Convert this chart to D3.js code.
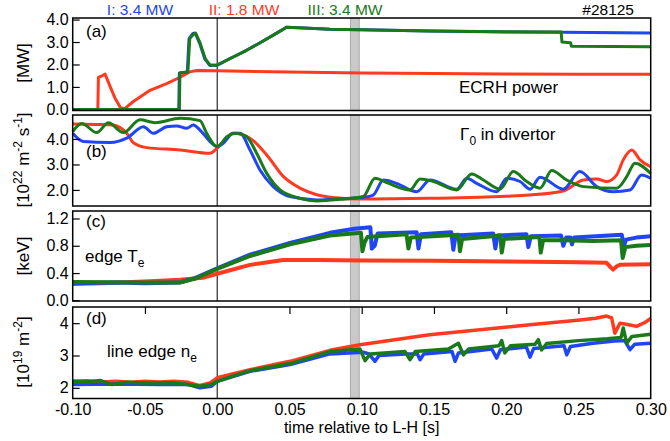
<!DOCTYPE html>
<html>
<head>
<meta charset="utf-8">
<script src="https://cdn.jsdelivr.net/npm/d3@7"></script>
<style>
body { margin: 0; background: #fff; }
text { font-family: "Liberation Sans", Arial, sans-serif; fill: #000; }
</style>
</head>
<body>
<svg id="chart" width="670" height="441"></svg>
<script>
// time axis
var xDomain = [-0.10, 0.30];
var xTicks = [-0.10, -0.05, 0.00, 0.05, 0.10, 0.15, 0.20, 0.25, 0.30];
var bandT = [0.0922, 0.0983];
var shotLabels = ["I: 3.4 MW", "II: 1.8 MW", "III: 3.4 MW"];
var shotNumber = "#28125";

// (a) ECRH power [MW]
var ecrhRed = [[-0.100,0],[-0.0826,0],[-0.0822,1.43],[-0.0790,1.52],[-0.0776,1.57],[-0.0740,1.0],[-0.0707,0.5],[-0.0670,0.08],[-0.0640,0.03],[-0.0580,0.35],[-0.0465,0.85],[-0.035,1.15],[-0.026,1.42],[-0.019,1.67],[-0.014,1.73],[0,1.72],[0.05,1.66],[0.10,1.62],[0.15,1.60],[0.20,1.58],[0.25,1.57],[0.30,1.57]];
var ecrhBlue = [[-0.100,0],[-0.0266,0],[-0.0262,1.62],[-0.0207,1.66],[-0.0195,3.15],[-0.0168,3.38],[-0.0152,3.40],[-0.0122,2.95],[-0.0086,2.25],[-0.0052,1.96],[0,1.97],[0.010,2.30],[0.020,2.62],[0.030,2.98],[0.040,3.35],[0.048,3.66],[0.060,3.63],[0.078,3.57],[0.10,3.55],[0.147,3.49],[0.20,3.45],[0.238,3.43],[0.30,3.40]];
var ecrhGreen = [[-0.100,0],[-0.0262,0],[-0.0258,1.62],[-0.0203,1.66],[-0.0190,3.15],[-0.0163,3.36],[-0.0148,3.38],[-0.0118,2.95],[-0.0082,2.25],[-0.0048,1.96],[0,1.97],[0.010,2.30],[0.020,2.62],[0.030,2.98],[0.040,3.35],[0.048,3.66],[0.060,3.63],[0.078,3.57],[0.10,3.55],[0.147,3.49],[0.20,3.46],[0.2380,3.45],[0.2386,3.00],[0.2445,2.97],[0.2452,2.81],[0.30,2.79]];

// (b) Gamma_0 in divertor [1e22 m^-2 s^-1]
var gamRed = [[-0.100,4.59],[-0.085,4.57],[-0.072,4.55],[-0.0626,4.22],[-0.058,3.85],[-0.0488,3.66],[-0.0257,3.57],[-0.005,3.44],[0,3.64],[0.0111,4.22],[0.0227,4.03],[0.0343,3.37],[0.0457,2.53],[0.0573,2.07],[0.0689,1.81],[0.080,1.70],[0.10,1.64],[0.147,1.67],[0.20,1.75],[0.216,1.80],[0.2396,1.96],[0.2534,2.39],[0.2626,2.43],[0.2696,2.33],[0.2765,2.59],[0.281,3.18],[0.2869,3.57],[0.2926,3.18],[0.30,2.91]];
var gamBlue = [[-0.100,4.22],[-0.0927,3.90],[-0.074,3.86],[-0.0626,4.03],[-0.0511,4.48],[-0.0442,4.22],[-0.035,4.48],[-0.028,4.51],[-0.0211,4.42],[-0.0165,4.55],[-0.0119,4.35],[-0.005,3.90],[0,3.70],[0.0042,3.83],[0.011,4.22],[0.0158,4.22],[0.0227,3.57],[0.0296,2.78],[0.0388,2.13],[0.0504,1.74],[0.0689,1.61],[0.085,1.65],[0.1011,1.71],[0.108,1.80],[0.115,2.39],[0.124,2.26],[0.138,1.93],[0.1473,2.39],[0.1657,2.03],[0.1727,2.46],[0.1796,2.26],[0.1934,1.93],[0.2003,2.46],[0.2096,2.33],[0.2165,2.03],[0.2234,2.50],[0.2395,2.03],[0.251,2.72],[0.2626,2.13],[0.2741,1.93],[0.2857,2.00],[0.2937,2.59],[0.30,2.46]];
var gamGreen = [[-0.100,4.29],[-0.0938,4.61],[-0.0834,4.25],[-0.0753,4.64],[-0.065,4.25],[-0.0534,4.75],[-0.043,4.64],[-0.0257,4.81],[-0.0119,4.72],[-0.0073,4.22],[0,3.70],[0.003,3.83],[0.0066,4.09],[0.0134,4.22],[0.0204,4.09],[0.0273,3.44],[0.0343,2.65],[0.0435,2.00],[0.0573,1.67],[0.0689,1.57],[0.085,1.63],[0.1011,1.74],[0.1092,2.46],[0.1173,2.29],[0.1334,2.00],[0.1404,2.43],[0.1496,2.33],[0.1657,2.00],[0.1761,2.63],[0.1842,2.39],[0.1957,2.03],[0.2049,2.72],[0.2142,2.33],[0.2234,2.07],[0.2315,2.76],[0.2419,2.39],[0.2534,2.13],[0.2765,2.07],[0.2834,2.52],[0.2891,3.05],[0.30,2.65]];

// (c) edge Te [keV]
var teRed = [[-0.100,0.24],[-0.080,0.25],[-0.0465,0.28],[-0.0257,0.30],[-0.010,0.33],[0,0.39],[0.0227,0.52],[0.0457,0.59],[0.070,0.59],[0.10,0.585],[0.15,0.58],[0.20,0.57],[0.25,0.56],[0.2695,0.55],[0.2725,0.48],[0.274,0.45],[0.2765,0.50],[0.2787,0.52],[0.30,0.53]];
var teBlue = [[-0.100,0.25],[-0.070,0.26],[-0.050,0.25],[-0.026,0.26],[-0.015,0.33],[0,0.47],[0.0227,0.67],[0.0504,0.84],[0.078,0.99],[0.095,1.05],[0.106,1.07],[0.107,0.76],[0.109,0.80],[0.111,0.98],[0.138,1.00],[0.1393,0.76],[0.141,0.97],[0.162,1.00],[0.1634,0.74],[0.165,0.95],[0.191,0.98],[0.1925,0.76],[0.194,0.95],[0.214,0.97],[0.2153,0.78],[0.217,0.94],[0.238,0.95],[0.2395,0.80],[0.2415,0.92],[0.2445,0.92],[0.2455,0.82],[0.247,0.92],[0.280,0.96],[0.2815,0.80],[0.283,0.89],[0.29,0.92],[0.30,0.94]];
var teGreen = [[-0.100,0.27],[-0.050,0.26],[-0.026,0.26],[-0.015,0.32],[0,0.46],[0.0227,0.65],[0.0504,0.82],[0.078,0.95],[0.0995,0.99],[0.1005,0.72],[0.102,0.85],[0.104,0.93],[0.131,0.97],[0.1323,0.76],[0.134,0.92],[0.167,0.96],[0.168,0.72],[0.1695,0.90],[0.196,0.95],[0.1969,0.70],[0.1985,0.90],[0.223,0.93],[0.2239,0.70],[0.2255,0.88],[0.24,0.88],[0.26,0.87],[0.2795,0.88],[0.2806,0.62],[0.2825,0.78],[0.29,0.80],[0.30,0.81]];

// (d) line edge ne [1e19 m^-2]
var neRed = [[-0.100,2.20],[-0.090,2.22],[-0.080,2.18],[-0.070,2.20],[-0.060,2.17],[-0.050,2.20],[-0.040,2.18],[-0.030,2.20],[-0.020,2.17],[-0.012,2.07],[-0.005,2.15],[0,2.31],[0.0227,2.56],[0.0504,2.82],[0.078,3.16],[0.0988,3.33],[0.147,3.64],[0.2165,3.95],[0.251,4.10],[0.262,4.15],[0.2695,4.22],[0.273,4.16],[0.2752,3.69],[0.2787,4.00],[0.284,3.96],[0.2902,3.90],[0.296,4.02],[0.30,4.15]];
var neBlue = [[-0.100,2.10],[-0.070,2.12],[-0.040,2.10],[-0.020,2.10],[-0.012,2.00],[-0.004,2.05],[0,2.20],[0.0227,2.51],[0.0504,2.72],[0.078,3.05],[0.1011,3.10],[0.105,3.05],[0.1092,2.82],[0.112,3.00],[0.130,3.05],[0.1385,3.05],[0.1404,2.87],[0.143,3.05],[0.1625,3.12],[0.1646,2.82],[0.167,3.08],[0.190,3.20],[0.1934,2.92],[0.196,3.18],[0.214,3.26],[0.2165,2.95],[0.219,3.22],[0.240,3.30],[0.2419,3.02],[0.2445,3.28],[0.260,3.38],[0.275,3.45],[0.282,3.46],[0.2857,3.18],[0.289,3.35],[0.30,3.38]];
var neGreen = [[-0.100,2.20],[-0.090,2.18],[-0.081,2.23],[-0.0729,2.10],[-0.0626,2.17],[-0.050,2.15],[-0.030,2.16],[-0.012,2.05],[-0.004,2.10],[0,2.20],[0.0227,2.53],[0.0504,2.75],[0.078,3.12],[0.0988,3.20],[0.1023,2.84],[0.106,3.05],[0.130,3.12],[0.1334,2.87],[0.137,3.12],[0.160,3.20],[0.1669,3.38],[0.1704,3.02],[0.174,3.20],[0.195,3.30],[0.1969,3.46],[0.199,3.08],[0.203,3.30],[0.220,3.35],[0.2222,3.49],[0.2245,3.17],[0.228,3.37],[0.250,3.46],[0.270,3.52],[0.2795,3.56],[0.281,3.85],[0.2834,3.38],[0.287,3.59],[0.30,3.66]];

var colors = ["#ff3a1f", "#1f45f5", "#1a7a1a"]; // red, blue, green
var shotColors = ["#1f45f5", "#ff3a1f", "#1a7a1a"];

var svg = d3.select("#chart");
var x = d3.scaleLinear().domain(xDomain).range([72.7, 650.7]);

var panels = [
	{ y0: 18, y1: 110.5, domain: [-0.05, 4.07], ticks: [0, 1, 2, 3, 4], fmt: ".1f", sw: 3, curve: d3.curveLinear, series: [ecrhRed, ecrhBlue, ecrhGreen], tag: "(a)", tagY: 37 },
	{ y0: 115, y1: 206, domain: [1.37, 4.94], ticks: [2, 3, 4], fmt: ".1f", sw: 3, curve: d3.curveMonotoneX, series: [gamRed, gamBlue, gamGreen], tag: "(b)", tagY: 157 },
	{ y0: 211, y1: 301, domain: [-0.01, 1.31], ticks: [0, 0.4, 0.8, 1.2], fmt: ".1f", sw: 4, curve: d3.curveLinear, series: [teRed, teBlue, teGreen], tag: "(c)", tagY: 227 },
	{ y0: 307, y1: 398.5, domain: [1.67, 4.5], ticks: [2, 3, 4], fmt: "d", sw: 3.5, curve: d3.curveLinear, series: [neRed, neBlue, neGreen], tag: "(d)", tagY: 324 }
];

panels.forEach(function(p) {
	var y = d3.scaleLinear().domain(p.domain).range([p.y1, p.y0]);
	var g = svg.append("g");

	g.append("rect")
		.attr("x", x(bandT[0]))
		.attr("y", p.y0)
		.attr("width", x(bandT[1]) - x(bandT[0]))
		.attr("height", p.y1 - p.y0)
		.attr("fill", "#c9c9c9")
		.attr("stroke", "#aaa")
		.attr("stroke-width", 1);

	g.append("line")
		.attr("x1", x(0)).attr("x2", x(0))
		.attr("y1", p.y0).attr("y2", p.y1)
		.attr("stroke", "#000")
		.attr("stroke-width", 1);

	var line = d3.line()
		.x(function(d) { return x(d[0]); })
		.y(function(d) { return y(d[1]); })
		.curve(p.curve);

	p.series.forEach(function(s, i) {
		g.append("path")
			.attr("d", line(s))
			.attr("fill", "none")
			.attr("stroke", colors[i])
			.attr("stroke-width", p.sw)
			.attr("stroke-linejoin", "round");
	});

	g.append("rect")
		.attr("x", x.range()[0])
		.attr("y", p.y0)
		.attr("width", x.range()[1] - x.range()[0])
		.attr("height", p.y1 - p.y0)
		.attr("fill", "none")
		.attr("stroke", "#000")
		.attr("stroke-width", 1.5);

	var ax = g.append("g")
		.attr("transform", "translate(" + x.range()[0] + ",0)")
		.call(d3.axisLeft(y).tickValues(p.ticks).tickFormat(d3.format(p.fmt)).tickSizeInner(-7).tickSizeOuter(0).tickPadding(4));
	ax.select(".domain").remove();
	ax.selectAll("line").attr("stroke", "#000").attr("stroke-width", 1.2);
	ax.selectAll("text").attr("font-size", 16).attr("font-family", null).attr("fill", "#000");

	g.append("text")
		.attr("x", 86)
		.attr("y", p.tagY)
		.attr("font-size", 17)
		.text(p.tag);
});

// x axis of bottom panel
var bottom = panels[3];
var xb = svg.append("g")
	.attr("transform", "translate(0," + bottom.y1 + ")")
	.call(d3.axisBottom(x).tickValues(xTicks).tickFormat(function(d) { return d.toFixed(2); }).tickSize(0).tickPadding(5));
xb.select(".domain").remove();
xb.selectAll("text").attr("font-size", 16).attr("font-family", null).attr("fill", "#000");

var xt = svg.append("g")
	.attr("transform", "translate(0," + bottom.y0 + ")")
	.call(d3.axisTop(x).tickValues(xTicks.filter(function(d) { return d !== 0 && d > xDomain[0] && d < xDomain[1]; })).tickFormat("").tickSizeInner(-7).tickSizeOuter(0));
xt.select(".domain").remove();
xt.selectAll("line").attr("stroke", "#000").attr("stroke-width", 1.2);

svg.append("text")
	.attr("x", (x.range()[0] + x.range()[1]) / 2)
	.attr("y", 433)
	.attr("text-anchor", "middle")
	.attr("font-size", 16)
	.text("time relative to L-H [s]");

// shot labels on top
var shotX = [140, 244, 345];
shotLabels.forEach(function(s, i) {
	svg.append("text")
		.attr("x", shotX[i])
		.attr("y", 15)
		.attr("text-anchor", "middle")
		.attr("font-size", 15.5)
		.style("fill", shotColors[i])
		.text(s);
});
svg.append("text")
	.attr("x", 634)
	.attr("y", 15)
	.attr("text-anchor", "end")
	.attr("font-size", 15.5)
	.text(shotNumber);

// in-panel annotations
svg.append("text").attr("x", 459).attr("y", 92.5).attr("font-size", 17).text("ECRH power");

var t1 = svg.append("text").attr("x", 460).attr("y", 140).attr("font-size", 17);
t1.append("tspan").text("\u0393");
t1.append("tspan").attr("dy", 5).attr("font-size", 12).text("0");
t1.append("tspan").attr("dy", -5).text(" in divertor");

var t2 = svg.append("text").attr("x", 85).attr("y", 261.5).attr("font-size", 17);
t2.append("tspan").text("edge T");
t2.append("tspan").attr("dy", 5).attr("font-size", 12).text("e");

var t3 = svg.append("text").attr("x", 107).attr("y", 356.5).attr("font-size", 17);
t3.append("tspan").text("line edge n");
t3.append("tspan").attr("dy", 5).attr("font-size", 12).text("e");

// y axis titles, superscripts raised with dy
function yTitle(cy, parts) {
	var t = svg.append("text")
		.attr("transform", "translate(29," + cy + ") rotate(-90)")
		.attr("text-anchor", "middle")
		.attr("font-size", 17);
	var shift = 0;
	parts.forEach(function(p) {
		var want = p[1] ? -7 : 0;
		var ts = t.append("tspan").attr("dy", want - shift).text(p[0]);
		if (p[1]) ts.attr("font-size", 12);
		shift = want;
	});
}
yTitle(63, [["[MW]"]]);
yTitle(160, [["[10"], ["22", 1], [" m"], ["-2", 1], [" s"], ["-1", 1], ["]"]]);
yTitle(256, [["[keV]"]]);
yTitle(352, [["[10"], ["19", 1], [" m"], ["-2", 1], ["]"]]);
</script>
</body>
</html>
